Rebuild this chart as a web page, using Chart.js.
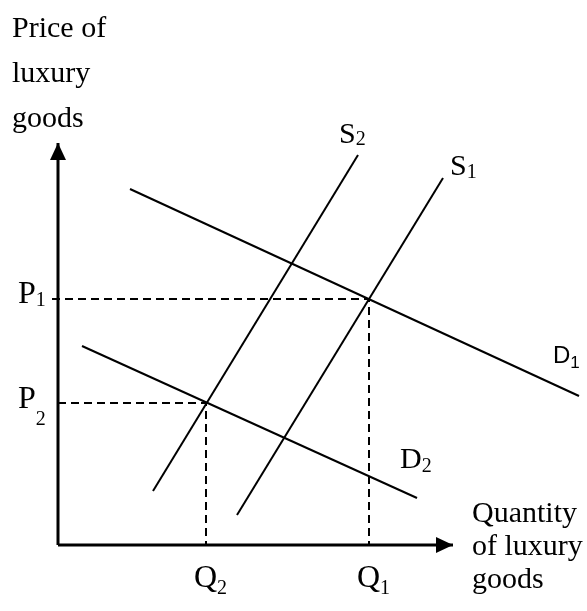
<!DOCTYPE html>
<html>
<head>
<meta charset="utf-8">
<script src="https://cdn.jsdelivr.net/npm/chart.js@4.4.1/dist/chart.umd.min.js"></script>
<style>
  html, body { margin: 0; padding: 0; background: #fff; }
  canvas { display: block; }
</style>
</head>
<body>
<canvas id="c" width="587" height="611"></canvas>
<script>
// ---- Data (units measured from the origin of the diagram) ----
const demand1 = [{x: 72, y: 356}, {x: 521, y: 149}];
const demand2 = [{x: 24, y: 199}, {x: 359, y: 47}];
const supply1 = [{x: 179, y: 30}, {x: 385, y: 367}];
const supply2 = [{x: 95, y: 54}, {x: 300, y: 390}];
const priceLevels = [246, 142];      // P1, P2
const quantityLevels = [311, 148];   // Q1, Q2
const axisMaxX = 395;
const axisMaxY = 402;
const yTitleLines = ['Price of', 'luxury', 'goods'];
const xTitleLines = ['Quantity', 'of luxury', 'goods'];

const solid = (data, w) => ({
  data, showLine: true, borderColor: '#000', borderWidth: w,
  pointRadius: 0, fill: false, tension: 0
});
const dashed = (data) => ({
  data, showLine: true, borderColor: '#000', borderWidth: 2,
  borderDash: [8, 5], pointRadius: 0, fill: false, tension: 0
});

const datasets = [
  solid([{x: 0, y: 0}, {x: axisMaxX, y: 0}], 3),
  solid([{x: 0, y: 0}, {x: 0, y: axisMaxY}], 3),
  dashed([{x: -6, y: priceLevels[0]}, {x: quantityLevels[0], y: priceLevels[0]}, {x: quantityLevels[0], y: 0}]),
  dashed([{x: 0, y: priceLevels[1]}, {x: quantityLevels[1], y: priceLevels[1]}, {x: quantityLevels[1], y: 0}]),
  solid(demand1, 2),
  solid(demand2, 2),
  solid(supply1, 2),
  solid(supply2, 2)
];

const labelPlugin = {
  id: 'labels',
  afterDatasetsDraw(chart) {
    const ctx = chart.ctx;
    const xs = chart.scales.x, ys = chart.scales.y;
    const px = v => xs.getPixelForValue(v);
    const py = v => ys.getPixelForValue(v);
    ctx.save();
    ctx.fillStyle = '#000';
    // arrowheads
    const tx = px(axisMaxX), ty = py(0);
    ctx.beginPath();
    ctx.moveTo(tx, ty); ctx.lineTo(tx - 17, ty - 8); ctx.lineTo(tx - 17, ty + 8); ctx.closePath(); ctx.fill();
    const ux = px(0), uy = py(axisMaxY);
    ctx.beginPath();
    ctx.moveTo(ux, uy); ctx.lineTo(ux - 8, uy + 17); ctx.lineTo(ux + 8, uy + 17); ctx.closePath(); ctx.fill();

    ctx.textBaseline = 'alphabetic';
    ctx.textAlign = 'left';
    const serif = s => s + 'px "Liberation Serif", "Times New Roman", serif';
    const withSub = (main, subTxt, x, y, mf, sf, dy) => {
      ctx.font = mf; ctx.fillText(main, x, y);
      const w = ctx.measureText(main).width;
      ctx.font = sf; ctx.fillText(subTxt, x + w, y + dy);
    };
    // axis titles
    ctx.font = serif(30);
    yTitleLines.forEach((t, i) => ctx.fillText(t, 12, 37 + i * 45));
    xTitleLines.forEach((t, i) => ctx.fillText(t, tx + 19, 522 + i * 33));
    // price labels
    withSub('P', '1', 18, py(priceLevels[0]) + 4, serif(32), serif(20), 3);
    withSub('P', '2', 18, py(priceLevels[1]) + 5, serif(32), serif(20), 17);
    // quantity labels
    withSub('Q', '2', px(quantityLevels[1]) - 12, 587, serif(32), serif(20), 7);
    withSub('Q', '1', px(quantityLevels[0]) - 12, 587, serif(32), serif(20), 7);
    // curve labels
    withSub('S', '2', px(supply2[1].x) - 19, py(supply2[1].y) - 12, serif(30), serif(20), 2);
    withSub('S', '1', px(supply1[1].x) + 7, py(supply1[1].y) - 3, serif(30), serif(20), 3);
    withSub('D', '2', px(demand2[1].x) - 17, py(demand2[1].y) - 30, serif(30), serif(20), 4);
    withSub('D', '1', px(demand1[1].x) - 26, py(demand1[1].y) - 33,
      '24px "Liberation Sans", Arial, sans-serif', '17px "Liberation Sans", Arial, sans-serif', 5);
    ctx.restore();
  }
};

new Chart(document.getElementById('c'), {
  type: 'scatter',
  data: { datasets },
  options: {
    responsive: false,
    animation: false,
    devicePixelRatio: 1,
    layout: { padding: 0 },
    plugins: { legend: { display: false }, tooltip: { enabled: false } },
    scales: {
      x: { type: 'linear', min: -58, max: 529, display: false },
      y: { type: 'linear', min: -66, max: 545, display: false }
    }
  },
  plugins: [labelPlugin]
});
</script>
</body>
</html>
